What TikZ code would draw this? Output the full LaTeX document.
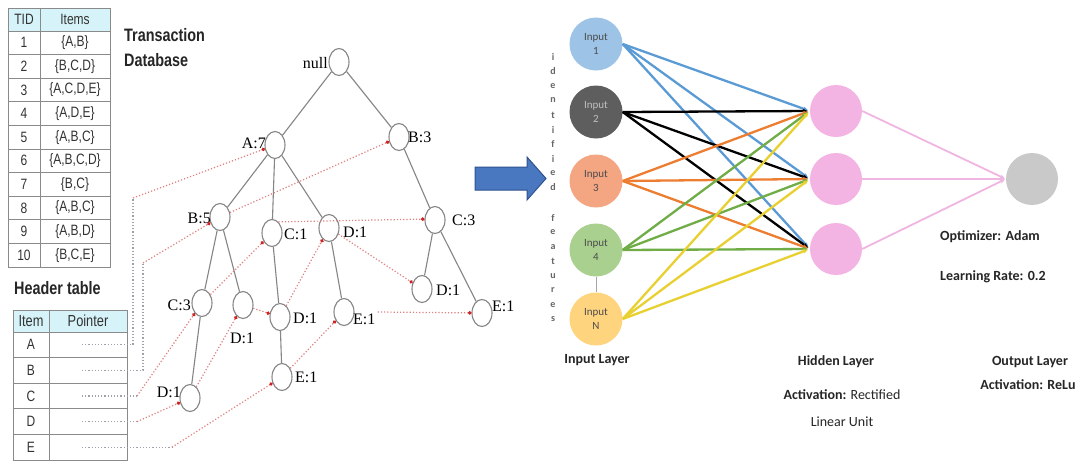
\documentclass[tikz,border=0pt]{standalone}
\usepackage{fontspec}
\setmainfont{Liberation Serif}
\newfontfamily\narrowsans[FakeStretch=0.8]{Liberation Sans}
\newfontfamily\nnsans{Carlito}
\usetikzlibrary{arrows.meta,shapes.geometric,calc}
\definecolor{tabgray}{HTML}{8A8A8A}
\definecolor{headcyan}{HTML}{D5F3F8}
\definecolor{treegray}{HTML}{858585}
\definecolor{linkred}{HTML}{E08080}
\definecolor{dotred}{HTML}{D02020}
\definecolor{ptrgray}{HTML}{A0A0AA}
\definecolor{arrowfill}{HTML}{4A78C0}
\definecolor{arrowline}{HTML}{2F528F}
\definecolor{inA}{HTML}{9DC3E6}
\definecolor{inB}{HTML}{5E5E5E}
\definecolor{inC}{HTML}{F4A582}
\definecolor{inD}{HTML}{A9D08E}
\definecolor{inE}{HTML}{FFD47F}
\definecolor{edA}{HTML}{5B9BD5}
\definecolor{edB}{HTML}{000000}
\definecolor{edC}{HTML}{ED7D31}
\definecolor{edD}{HTML}{70AD47}
\definecolor{edE}{HTML}{E8D030}
\definecolor{hidpink}{HTML}{F3B4E4}
\definecolor{pinkedge}{HTML}{F0B6E2}
\definecolor{outgray}{HTML}{C9C9C9}
\begin{document}
\begin{tikzpicture}[x=1pt,y=-1pt,
  tnode/.style={ellipse, draw=treegray, line width=1.1pt, minimum width=20pt, minimum height=27pt, inner sep=0pt},
  tlab/.style={font=\fontsize{16}{16}\selectfont, inner sep=0pt},
  tedge/.style={draw=treegray, line width=1.1pt},
  link/.style={draw=linkred, dotted, line width=1.2pt, -{Circle[length=3.4pt,color=dotred]}},
  ptr/.style={draw=ptrgray, dotted, line width=1.2pt},
  tabline/.style={draw=tabgray, line width=0.7pt},
  cell/.style={font=\narrowsans\fontsize{15}{15}\selectfont, inner sep=0pt, text=black!80},
  ttl/.style={font=\narrowsans\bfseries\fontsize{18}{18}\selectfont, inner sep=0pt, anchor=west, text=black!85},
  neuron/.style={circle, minimum size=53pt, inner sep=0pt},
  intext/.style={font=\nnsans\fontsize{11}{14}\selectfont, align=center, text=black!70},
  nnedge/.style={line width=2.3pt, -{Stealth[length=5pt,width=4.5pt]}},
  nnlab/.style={font=\nnsans\bfseries\fontsize{14}{16}\selectfont, inner sep=0pt, text=black!85},
  vlet/.style={font=\nnsans\bfseries\fontsize{10}{10}\selectfont, inner sep=0pt, text=black!60}
]
\useasboundingbox (0,0) rectangle (1077,461);
\fill[white] (0,0) rectangle (1077,461);

% ---------- Transaction table ----------
\fill[headcyan] (8,8) rectangle (110,31);
\foreach \k in {0,...,9} \draw[tabline] (8,{31+23.6*\k}) -- (110,{31+23.6*\k});
\draw[tabline] (8,8) rectangle (110,267);
\draw[tabline] (40,8) -- (40,267);
\node[cell] (tidh) at (24,19.5) {TID};
\node[cell] (itemsh) at (75,19.5) {Items};
\node[cell] (tid1) at (24,42.8) {1};   \node[cell] (set1) at (75,42.8) {\{A,B\}};
\node[cell] (tid2) at (24,66.4) {2};   \node[cell] (set2) at (75,66.4) {\{B,C,D\}};
\node[cell] (tid3) at (24,90.0) {3};   \node[cell] (set3) at (75,90.0) {\{A,C,D,E\}};
\node[cell] (tid4) at (24,113.6) {4};  \node[cell] (set4) at (75,113.6) {\{A,D,E\}};
\node[cell] (tid5) at (24,137.2) {5};  \node[cell] (set5) at (75,137.2) {\{A,B,C\}};
\node[cell] (tid6) at (24,160.8) {6};  \node[cell] (set6) at (75,160.8) {\{A,B,C,D\}};
\node[cell] (tid7) at (24,184.4) {7};  \node[cell] (set7) at (75,184.4) {\{B,C\}};
\node[cell] (tid8) at (24,208.0) {8};  \node[cell] (set8) at (75,208.0) {\{A,B,C\}};
\node[cell] (tid9) at (24,231.6) {9};  \node[cell] (set9) at (75,231.6) {\{A,B,D\}};
\node[cell] (tid10) at (24,255.2) {10}; \node[cell] (set10) at (75,255.2) {\{B,C,E\}};

\node[ttl] (tdb1) at (124,35.5) {Transaction};
\node[ttl] (tdb2) at (124,60.5) {Database};

% ---------- Header table ----------
\node[ttl] (htitle) at (14,288) {Header table};
\fill[headcyan] (13,310) rectangle (127,332);
\foreach \k in {0,...,4} \draw[tabline] (13,{332+25.6*\k}) -- (127,{332+25.6*\k});
\draw[tabline] (13,310) rectangle (127,460);
\draw[tabline] (49,310) -- (49,460);
\node[cell, font=\narrowsans\fontsize{16}{16}\selectfont] (itemhd) at (31,321) {Item};
\node[cell, font=\narrowsans\fontsize{16}{16}\selectfont] (ptrhd) at (88,321) {Pointer};
\node[cell] (hA) at (31,344.8) {A};
\node[cell] (hB) at (31,370.4) {B};
\node[cell] (hC) at (31,396.0) {C};
\node[cell] (hD) at (31,421.6) {D};
\node[cell] (hE) at (31,447.2) {E};

% ---------- FP tree ----------
\node[tnode] (null) at (339,62) {};
\node[tlab, anchor=east] (nulll) at (328,63) {null};
\node[tnode] (A7) at (275,145) {};
\node[tlab, anchor=east] (A7l) at (266,143) {A:7};
\node[tnode] (B3) at (399,137) {};
\node[tlab, anchor=west] (B3l) at (408,137) {B:3};
\node[tnode] (B5) at (220,217) {};
\node[tlab, anchor=east] (B5l) at (211,218) {B:5};
\node[tnode] (C1) at (272,233) {};
\node[tlab, anchor=west] (C1l) at (284,234) {C:1};
\node[tnode] (D1t) at (329,228) {};
\node[tlab, anchor=west] (D1tl) at (343,232) {D:1};
\node[tnode] (C3r) at (435,220) {};
\node[tlab, anchor=west] (C3rl) at (452,220) {C:3};
\node[tnode] (C3l) at (202,303) {};
\node[tlab, anchor=east] (C3ll) at (191,305) {C:3};
\node[tnode] (D1u) at (243,305) {};
\node[tlab] (D1ul) at (242,338) {D:1};
\node[tnode] (D1m) at (280,317) {};
\node[tlab, anchor=west] (D1ml) at (293,318) {D:1};
\node[tnode] (E1m) at (344,312) {};
\node[tlab, anchor=west] (E1ml) at (353,319) {E:1};
\node[tnode] (D1r) at (422,289) {};
\node[tlab, anchor=west] (D1rl) at (436,290) {D:1};
\node[tnode] (E1r) at (482,313) {};
\node[tlab, anchor=west] (E1rl) at (492,306) {E:1};
\node[tnode] (D1bl) at (190,398) {};
\node[tlab, anchor=east] (D1bll) at (181,392) {D:1};
\node[tnode] (E1bm) at (282,377) {};
\node[tlab, anchor=west] (E1bml) at (295,377) {E:1};

\foreach \a/\b in {null/A7, null/B3, A7/B5, A7/C1, A7/D1t, B3/C3r, B5/C3l, B5/D1u, C1/D1m, D1t/E1m, C3r/D1r, C3r/E1r, C3l/D1bl, D1m/E1bm}
  \draw[tedge] (\a) -- (\b);

% pointer coordinates
\coordinate (pA) at (82,344.8); \coordinate (cA) at (133,344.8); \coordinate (bA) at (133,198);
\coordinate (pB) at (82,370.4); \coordinate (cB) at (143,370.4); \coordinate (bB) at (143,263);
\coordinate (pC) at (82,396.0); \coordinate (cC) at (137,396.0);
\coordinate (pD) at (82,421.6); \coordinate (cD) at (137,421.6);
\coordinate (pE) at (82,447.2); \coordinate (cE) at (172,447.2);

\draw[ptr] (pA) -- (cA) -- (bA);
\draw[ptr] (pB) -- (cB) -- (bB);
\draw[ptr] (pC) -- (cC);
\draw[ptr] (pD) -- (cD);
\draw[ptr] (pE) -- (cE);

\draw[link] (bA) -- (A7);
\draw[link] (bB) -- (B5);
\draw[link] (B5) -- (B3);
\draw[link] (cC) -- (C3l);
\draw[link] (C3l) -- (C1);
\draw[link] (C1.60) -- (C3r.175);
\draw[link] (cD) -- (D1bl);
\draw[link] (D1bl) -- (D1u);
\draw[link] (D1u) -- (D1m);
\draw[link] (D1m) -- (D1t);
\draw[link] (D1t) -- (D1r);
\draw[link] (cE) -- (E1bm);
\draw[link] (E1bm) -- (E1m);
\draw[link] ([xshift=2pt]E1ml.east |- E1m) -- (E1r);

% ---------- Big arrow ----------
\draw[fill=arrowfill, draw=arrowline, line width=1pt]
  (475,167) -- (527,167) -- (527,157) -- (546,178.5) -- (527,200) -- (527,190) -- (475,190) -- cycle;

% ---------- Neural network ----------
\foreach \ch [count=\k] in {i,d,e,n,t,i,f,i,e,d}
  \node[vlet] (va\k) at (553,{57+14.5*(\k-1)}) {\ch};
\foreach \ch [count=\k] in {f,e,a,t,u,r,e,s}
  \node[vlet] (vb\k) at (553,{218+14.5*(\k-1)}) {\ch};

\node[neuron, fill=inA] (in1) at (596,44) {};
\node[neuron, fill=inB] (in2) at (596,112) {};
\node[neuron, fill=inC] (in3) at (596,181) {};
\node[neuron, fill=inD] (in4) at (596,250) {};
\node[neuron, fill=inE] (inN) at (596,319) {};
\node[intext] (t1) at (in1) {Input\\1};
\node[intext, text=black!25] (t2) at (in2) {Input\\2};
\node[intext] (t3) at (in3) {Input\\3};
\node[intext] (t4) at (in4) {Input\\4};
\node[intext] (tN) at (inN) {Input\\N};
\draw[gray!70, line width=0.8pt] (in4.south) -- (inN.north);

\node[neuron, fill=hidpink, minimum size=52pt] (h1) at (836,111) {};
\node[neuron, fill=hidpink, minimum size=52pt] (h2) at (836,179) {};
\node[neuron, fill=hidpink, minimum size=52pt] (h3) at (836,249) {};
\node[neuron, fill=outgray, minimum size=52pt] (out) at (1032,179) {};

\foreach \i/\c in {1/edA, 2/edB, 3/edC, 4/edD, N/edE}
  \foreach \j in {1,2,3}
    \draw[nnedge, draw=\c, shorten >=2pt] (in\i.east) -- (h\j.west);
\foreach \j in {1,2,3}
  \draw[nnedge, draw=pinkedge, line width=1.8pt, shorten >=1pt] (h\j.east) -- (out.west);

\node[nnlab] (inlayer) at (597,360) {Input Layer};
\node[nnlab] (hidlayer) at (836,362) {Hidden Layer};
\node[nnlab] (hidact1) at (842,395) {Activation: {\mdseries Rectified}};
\node[nnlab, font=\nnsans\fontsize{14}{16}\selectfont] (hidact2) at (842,422) {Linear Unit};
\node[nnlab] (outlayer) at (1030,362) {Output Layer};
\node[nnlab] (outact) at (1028,385) {Activation: ReLu};
\node[nnlab, anchor=west] (opt) at (940,237) {Optimizer: Adam};
\node[nnlab, anchor=west] (lr) at (940,277) {Learning Rate: 0.2};
\end{tikzpicture}
\end{document}
